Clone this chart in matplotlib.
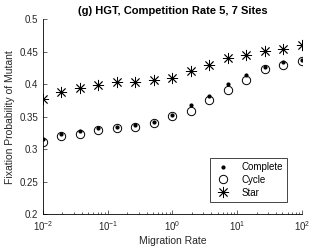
import numpy as np
import matplotlib.pyplot as plt

plt.rcParams['font.family'] = ['Liberation Sans', 'DejaVu Sans']

# migration rates (log spaced, 15 points from 1e-2 to 1e2)
rate = [0.01, 0.0193, 0.0373, 0.072, 0.139, 0.268, 0.518, 1.0,
        1.93, 3.73, 7.2, 13.9, 26.8, 51.8, 100.0]
complete = [0.316, 0.323, 0.328, 0.332, 0.335, 0.337, 0.342, 0.352,
            0.368, 0.382, 0.401, 0.414, 0.427, 0.434, 0.438]
cycle = [0.311, 0.320, 0.324, 0.329, 0.333, 0.335, 0.340, 0.351,
         0.359, 0.376, 0.391, 0.406, 0.423, 0.430, 0.436]
star = [0.378, 0.388, 0.394, 0.399, 0.403, 0.403, 0.406, 0.410,
        0.420, 0.430, 0.440, 0.445, 0.451, 0.455, 0.460]

fig = plt.figure(figsize=(3.32, 2.49), dpi=100)
ax = fig.add_axes([0.1295, 0.1394, 0.78, 0.7831])

ax.plot(rate, complete, 'k.', ms=4, label='Complete')
ax.plot(rate, cycle, 'o', mfc='none', mec='k', ms=6, mew=0.7, label='Cycle')
ax.plot(rate, star, ls='none', marker=(8, 2, 0), color='k', ms=8, mew=0.6, label='Star')

ax.set_xscale('log')
ax.set_xlim(1e-2, 1e2)
ax.set_ylim(0.2, 0.5)
ax.set_yticks([0.2, 0.25, 0.3, 0.35, 0.4, 0.45, 0.5])
ax.set_yticklabels(['0.2', '0.25', '0.3', '0.35', '0.4', '0.45', '0.5'])
ax.spines['top'].set_visible(False)
ax.spines['right'].set_visible(False)
for s in ['left', 'bottom']:
    ax.spines[s].set_linewidth(0.6)
ax.tick_params(which='both', direction='in', width=0.5, labelsize=7, colors='#262626')
ax.tick_params(which='major', length=3)
ax.tick_params(which='minor', length=1.8)

ax.set_xlabel('Migration Rate', fontsize=7.5, color='#262626', labelpad=2)
ax.set_ylabel('Fixation Probability of Mutant', fontsize=7.5, color='#262626', labelpad=3)
ax.set_title('(g) HGT, Competition Rate 5, 7 Sites', fontsize=8, fontweight='bold', pad=4)

leg = ax.legend(loc='lower right', bbox_to_anchor=(0.962, 0.04), fontsize=7,
                fancybox=False, edgecolor='#262626', framealpha=1,
                borderpad=0.4, labelspacing=0.3, handletextpad=0.9, handlelength=2.0)
leg.get_frame().set_linewidth(0.6)

fig.savefig('out.png', dpi=100)
